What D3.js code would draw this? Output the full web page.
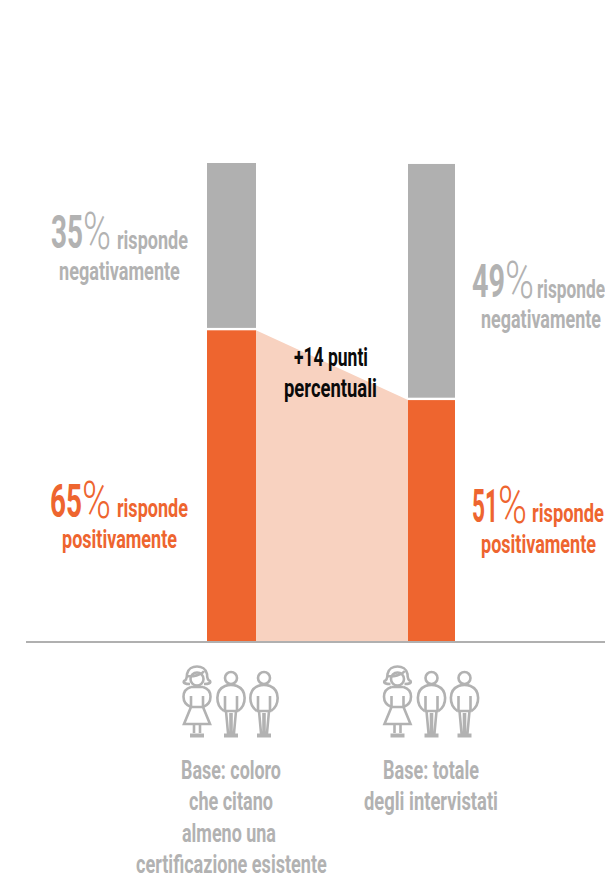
<!DOCTYPE html>
<html><head><meta charset="utf-8">
<script src="https://cdnjs.cloudflare.com/ajax/libs/d3/7.8.5/d3.min.js"></script>
<style>html,body{margin:0;padding:0;background:#fff;overflow:hidden}svg{display:block}text{font-family:Roboto,sans-serif;font-weight:700}</style>
</head><body><svg id="c" width="605" height="879"></svg>
<script>
const categories = ["Base: coloro che citano almeno una certificazione esistente", "Base: totale degli intervistati"];
const positiveLabels = [65, 51];
const negativeLabels = [35, 49];
const positiveBar = [65, 50.4];
const negativeBar = [35, 49.4];
const wordResponds = "risponde";
const wordNegative = "negativamente";
const wordPositive = "positivamente";
const deltaLines = ["+14 punti", "percentuali"];
const baseLines = [["Base: coloro", "che citano", "almeno una", "certificazione esistente"], ["Base: totale", "degli intervistati"]];

const ORANGE = "#ee652f", GREY = "#b0b0b0", BAND = "#f8d2c0", TXT = "#b2b2b2";
const svg = d3.select("#c");
const x = d3.scalePoint().domain(categories).range([231.5, 431.5]);
const y = d3.scaleLinear().domain([0, 100]).range([641, 163]);
const barW = [49, 47];

// connecting band
svg.append("path").attr("fill", BAND)
  .attr("d", d3.area().x(d => d[0]).y0(y(0)).y1(d => y(d[1]))([
    [x(categories[0]) + barW[0] / 2, positiveBar[0]],
    [x(categories[1]) - barW[1] / 2, positiveBar[1]]
  ]));

// stacked bars
categories.forEach((c, i) => {
  const l = x(c) - barW[i] / 2;
  svg.append("rect").attr("x", l).attr("width", barW[i]).attr("fill", ORANGE)
    .attr("y", y(positiveBar[i])).attr("height", y(0) - y(positiveBar[i]));
  svg.append("rect").attr("x", l).attr("width", barW[i]).attr("fill", GREY)
    .attr("y", y(positiveBar[i] + negativeBar[i])).attr("height", y(0) - y(negativeBar[i]) - 2.4);
});

// baseline
svg.append("line").attr("x1", 26).attr("x2", 605).attr("y1", 642).attr("y2", 642)
  .attr("stroke", GREY).attr("stroke-width", 2);

// text fitted horizontally to a span
function fit(str, x0, x1, base, size, fill, weight) {
  const t = svg.append("text").text(str).attr("font-size", size).attr("fill", fill)
    .style("font-weight", weight || 700);
  const w = t.node().getComputedTextLength();
  t.attr("transform", `translate(${x0},${base}) scale(${(x1 - x0) / w},1)`);
  return t;
}

function pct(v, d0, d1, p1, base, fill) {
  fit(String(v), d0, d1, base, 47, fill, 700);
  fit("%", d1, p1, base + 1, 52, fill, 300);
}

pct(negativeLabels[0], 51, 83, 111, 248, TXT);
fit(wordResponds, 117, 188, 249, 26, TXT);
fit(wordNegative, 59, 180, 280, 26, TXT);

pct(positiveLabels[0], 50, 82, 111, 517, ORANGE);
fit(wordResponds, 117, 188, 517, 26, ORANGE);
fit(wordPositive, 62, 177, 548, 26, ORANGE);

pct(negativeLabels[1], 472, 505, 534, 297, TXT);
fit(wordResponds, 537, 605, 298, 26, TXT);
fit(wordNegative, 481, 601, 328, 26, TXT);

pct(positiveLabels[1], 472, 498, 527, 522, ORANGE);
fit(wordResponds, 532, 604, 522, 26, ORANGE);
fit(wordPositive, 481, 596, 553, 26, ORANGE);

fit(deltaLines[0], 294, 368, 366, 26, "#0a0a0a");
fit(deltaLines[1], 284, 377, 397, 26, "#0a0a0a");

// base captions
const spans = [[[181, 281], [189, 273], [182, 276], [136, 327]], [[383, 479], [364, 498]]];
baseLines.forEach((lines, i) => lines.forEach((s, j) =>
  fit(s, spans[i][j][0], spans[i][j][1], 778.5 + j * 31.5, 25.5, TXT)));

// pictograms
function man(g, c) {
  g.append("circle").attr("cx", c).attr("cy", 678).attr("r", 6);
  g.append("path").attr("d", `M${c-7},711 C${c-16},705 ${c-16},690 ${c-6},686 C${c-2},684.5 ${c+2},684.5 ${c+6},686 C${c+16},690 ${c+16},705 ${c+7},711`);
  g.append("path").attr("d", `M${c-6},696 V711 H${c+6} V696`);
  g.append("path").attr("d", `M${c-5},711 L${c-3},733 H${c-0.5} V713 M${c+5},711 L${c+3},733 H${c+0.5} V713`);
  g.append("path").attr("stroke-width", 4).attr("d", `M${c-7},735.5 H${c+7}`);
}
function woman(g, c) {
  g.append("circle").attr("cx", c).attr("cy", 679).attr("r", 6.5);
  g.append("path").attr("d", `M${c-7},684 C${c-12},684 ${c-14},683 ${c-13},681 C${c-10},680 ${c-10},676 ${c-10},674 C${c-8},664 ${c+8},664 ${c+10},674 C${c+10},677 ${c+10},680 ${c+13},681 C${c+14},683 ${c+12},684 ${c+7},684`);
  g.append("path").attr("d", `M${c-10},676 C${c-5},677 ${c+5},675 ${c+7},671`);
  g.append("path").attr("d", `M${c-6},687 C${c-16},690 ${c-16},703 ${c-6},707 M${c+6},687 C${c+16},690 ${c+16},703 ${c+6},707 M${c-6},687 H${c+6}`);
  g.append("path").attr("d", `M${c-6},696 V707 L${c-13},724 H${c+13} L${c+6},707 V696 M${c-6},707 H${c+6}`);
  g.append("path").attr("d", `M${c-3},724 V733 M${c+3},724 V733`);
  g.append("path").attr("stroke-width", 4).attr("d", `M${c-7},735.5 H${c+7}`);
}
[0, 200.5].forEach(dx => {
  const g = svg.append("g").attr("fill", "none").attr("stroke", TXT).attr("stroke-width", 2.6).attr("transform", `translate(${dx},0)`);
  woman(g, 197); man(g, 231); man(g, 264);
});
</script></body></html>
